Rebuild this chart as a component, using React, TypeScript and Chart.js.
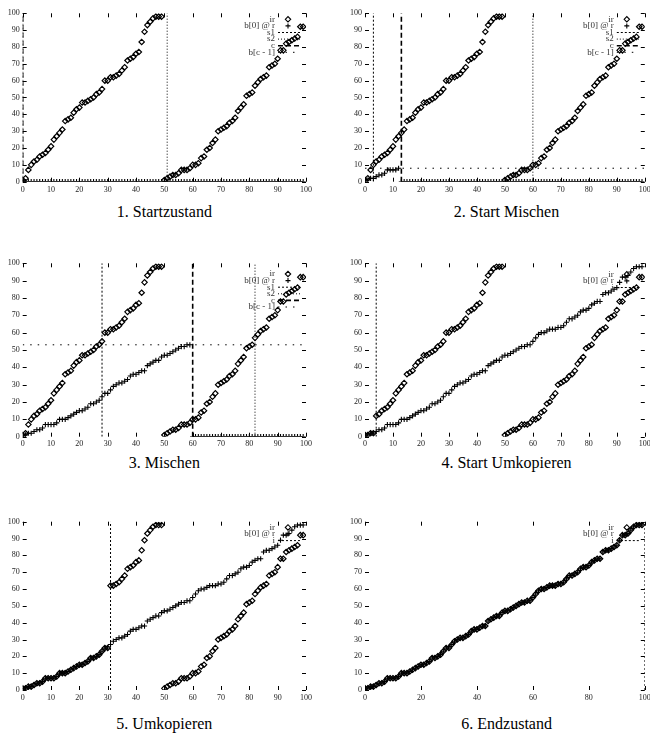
import React, { useEffect, useRef } from "react";
import { Chart, registerables } from "chart.js";
Chart.register(...registerables);

// ---- data ----
const IR_LEFT = [1, 2, 7, 10, 12, 13, 15, 16, 17, 19, 21, 25, 27, 29, 31, 36, 37, 38, 41, 43, 44, 47, 47, 48, 49, 50, 52, 53, 55, 60, 60, 62, 62, 63, 64, 66, 68, 72, 73, 74, 76, 77, 83, 89, 93, 95, 97, 98, 98, 98];
const IR_RIGHT = [1, 2, 3, 4, 4, 5, 7, 7, 7, 8, 10, 10, 11, 14, 15, 19, 20, 23, 25, 30, 31, 32, 33, 35, 36, 38, 42, 44, 46, 51, 52, 53, 57, 59, 61, 62, 63, 68, 69, 70, 73, 78, 78, 82, 83, 84, 85, 86, 92, 92];
const MERGED = [1, 1, 2, 2, 3, 4, 4, 5, 7, 7, 7, 7, 8, 10, 10, 10, 11, 12, 13, 14, 15, 15, 16, 17, 19, 19, 20, 21, 23, 25, 25, 27, 29, 30, 31, 31, 32, 33, 35, 36, 36, 37, 38, 38, 41, 42, 43, 44, 44, 46, 47, 47, 48, 49, 50, 51, 52, 52, 53, 53, 55, 57, 59, 60, 60, 61, 62, 62, 62, 63, 63, 64, 66, 68, 68, 69, 70, 72, 73, 73, 74, 76, 77, 78, 78, 82, 83, 83, 84, 85, 86, 89, 92, 92, 93, 95, 97, 98, 98, 98];

const PANEL_TITLES = ["1. Startzustand", "2. Start Mischen", "3. Mischen", "4. Start Umkopieren", "5. Umkopieren", "6. Endzustand"];
const MERGE_S1 = [0, 3, 28];
const MERGE_S2 = [51, 60, 82];
const MERGE_C = [0, 13, 60];
const MERGE_BC1: (number | null)[] = [null, 8, 53];
const COPY_I = [4, 31, 100];
const X_STEP = [10, 10, 10, 10, 10, 20];
const Y_STEP = 10;

const IR_START = [...IR_LEFT, ...IR_RIGHT];

const FONT = "'Liberation Serif', 'Times New Roman', serif";

type Geo = { cx: number; cy: number; cw: number; ch: number; left: number; top: number; right: number; bottom: number; lg: number; lp: number; ty: number };
const GEOS: Geo[] = [
  { cx: 0, cy: 0, cw: 325, ch: 200, left: 22.7, top: 13.3, right: 306, bottom: 181.7, lg: 6, lp: 3, ty: 212 },
  { cx: 325, cy: 0, cw: 325, ch: 200, left: 365, top: 13.3, right: 648, bottom: 181.7, lg: 6, lp: 3, ty: 212 },
  { cx: 0, cy: 250, cw: 325, ch: 200, left: 22.7, top: 263.3, right: 306, bottom: 436.7, lg: 10.7, lp: 2.5, ty: 463 },
  { cx: 325, cy: 250, cw: 325, ch: 200, left: 365, top: 263.3, right: 648, bottom: 436.7, lg: 11, lp: 2.5, ty: 463 },
  { cx: 0, cy: 505, cw: 325, ch: 205, left: 22.7, top: 521.7, right: 306, bottom: 690, lg: 5.7, lp: 3, ty: 724 },
  { cx: 325, cy: 505, cw: 325, ch: 205, left: 365, top: 521.7, right: 648.3, bottom: 690, lg: 5.7, lp: 3, ty: 724 },
];

type LegendItem = { label: string; kind: "diamond" | "cross" | "line"; dash?: number[]; w?: number };
const DASH_S1 = [2, 2];
const DASH_S2 = [1, 2];
const DASH_C = [5, 3];
const DASH_BC = [1.5, 6];

function pts(arr: number[]) {
  return arr.map((y, x) => ({ x, y }));
}

function vline(x: number, dash: number[], w: number, label: string) {
  return { label, data: [{ x, y: 0 }, { x, y: 100 }], showLine: true, pointRadius: 0, borderColor: "#000", borderWidth: w, borderDash: dash, fill: false };
}
function hline(y: number, dash: number[], w: number, label: string) {
  return { label, data: [{ x: 0, y }, { x: 100, y }], showLine: true, pointRadius: 0, borderColor: "#000", borderWidth: w, borderDash: dash, fill: false };
}

function buildConfig(idx: number): any {
  const g = GEOS[idx];
  const isMerge = idx < 3;
  let ir: number[];
  let b: number[];
  const lineSets: any[] = [];
  let legend: LegendItem[];
  if (isMerge) {
    ir = IR_START;
    const c = MERGE_C[idx];
    b = IR_START.map((_, k) => (k < c ? MERGED[k] : 0));
    lineSets.push(vline(MERGE_S1[idx], DASH_S1, 1, "s1"));
    lineSets.push(vline(MERGE_S2[idx], DASH_S2, 1, "s2"));
    lineSets.push(vline(MERGE_C[idx], DASH_C, 1.6, "c"));
    const h = MERGE_BC1[idx];
    if (h !== null) lineSets.push(hline(h, DASH_BC, 1, "b[c - 1]"));
    legend = [
      { label: "ir", kind: "diamond" },
      { label: "b[0] @ r", kind: "cross" },
      { label: "s1", kind: "line", dash: DASH_S1, w: 1 },
      { label: "s2", kind: "line", dash: DASH_S2, w: 1 },
      { label: "c", kind: "line", dash: DASH_C, w: 1.6 },
      { label: "b[c - 1]", kind: "line", dash: DASH_BC, w: 1 },
    ];
  } else {
    const i = COPY_I[idx - 3];
    ir = IR_START.map((v, k) => (k < i ? MERGED[k] : v));
    b = MERGED;
    lineSets.push(vline(i, DASH_S1, 1, "i"));
    legend = [
      { label: "ir", kind: "diamond" },
      { label: "b[0] @ r", kind: "cross" },
      { label: "i", kind: "line", dash: DASH_S1, w: 1 },
    ];
  }

  const decor = {
    id: "gpDecor" + idx,
    afterDraw(chart: any) {
      const { ctx, chartArea, scales } = chart;
      const { left, right, top, bottom } = chartArea;
      ctx.save();
      ctx.strokeStyle = "#000";
      ctx.lineWidth = 1;
      ctx.setLineDash([]);
      const TL = 4;
      ctx.beginPath();
      for (const t of scales.x.ticks) {
        const px = Math.round(scales.x.getPixelForValue(t.value)) + 0.5;
        ctx.moveTo(px, bottom);
        ctx.lineTo(px, bottom - TL);
        ctx.moveTo(px, top);
        ctx.lineTo(px, top + TL);
      }
      for (const t of scales.y.ticks) {
        const py = Math.round(scales.y.getPixelForValue(t.value)) + 0.5;
        ctx.moveTo(left, py);
        ctx.lineTo(left + TL, py);
        ctx.moveTo(right, py);
        ctx.lineTo(right - TL, py);
      }
      ctx.stroke();

      // legend
      const tx = right - 31;
      ctx.font = "9px " + FONT;
      ctx.textAlign = "right";
      ctx.textBaseline = "middle";
      legend.forEach((it, k) => {
        const y = top + g.lg + k * 6.6;
        ctx.fillStyle = "#333";
        ctx.fillText(it.label, tx, y);
        const sx = tx + 13;
        ctx.strokeStyle = "#000";
        if (it.kind === "diamond") {
          ctx.setLineDash([]);
          ctx.lineWidth = 1.1;
          ctx.beginPath();
          ctx.moveTo(sx - 2.7, y);
          ctx.lineTo(sx, y - 2.7);
          ctx.lineTo(sx + 2.7, y);
          ctx.lineTo(sx, y + 2.7);
          ctx.closePath();
          ctx.stroke();
        } else if (it.kind === "cross") {
          ctx.setLineDash([]);
          ctx.lineWidth = 1.1;
          ctx.beginPath();
          ctx.moveTo(sx - 2.5, y);
          ctx.lineTo(sx + 2.5, y);
          ctx.moveTo(sx, y - 2.5);
          ctx.lineTo(sx, y + 2.5);
          ctx.stroke();
        } else {
          ctx.setLineDash(it.dash || []);
          ctx.lineWidth = it.w || 1;
          ctx.beginPath();
          ctx.moveTo(tx + 3, y);
          ctx.lineTo(tx + 25, y);
          ctx.stroke();
        }
      });
      ctx.restore();
    },
  };

  return {
    type: "scatter",
    data: {
      datasets: [
        {
          label: "ir",
          data: pts(ir),
          pointStyle: "rectRot",
          pointRadius: 2.7,
          borderColor: "#000",
          backgroundColor: "rgba(0,0,0,0)",
          borderWidth: 1.2,
          showLine: false,
        },
        {
          label: "b[0] @ r",
          data: pts(b),
          pointStyle: "cross",
          pointRadius: 2.6,
          borderColor: "#000",
          borderWidth: 1.1,
          showLine: false,
        },
        ...lineSets,
      ],
    },
    options: {
      responsive: false,
      animation: false,
      devicePixelRatio: 1,
      layout: {
        padding: { left: 0, top: g.top - g.cy, right: g.cx + g.cw - g.right, bottom: 0 },
      },
      plugins: { legend: { display: false }, tooltip: { enabled: false }, title: { display: false } },
      scales: {
        x: {
          type: "linear",
          min: 0,
          max: 100,
          ticks: { stepSize: X_STEP[idx], font: { family: FONT, size: 8 }, color: "#222", padding: g.lp, maxRotation: 0, autoSkip: false },
          grid: { display: false, drawTicks: false },
          border: { display: false },
          afterFit: (s: any) => {
            s.height = g.cy + g.ch - g.bottom;
            s.paddingLeft = 0;
            s.paddingRight = 0;
          },
        },
        y: {
          type: "linear",
          min: 0,
          max: 100,
          ticks: { stepSize: Y_STEP, font: { family: FONT, size: 8 }, color: "#222", padding: 3, autoSkip: false },
          grid: { display: false, drawTicks: false },
          border: { display: false },
          afterFit: (s: any) => {
            s.width = g.left - g.cx;
            s.paddingTop = 0;
            s.paddingBottom = 0;
          },
        },
      },
    },
    plugins: [decor],
  };
}

function Panel({ idx }: { idx: number }) {
  const ref = useRef<HTMLCanvasElement>(null);
  const g = GEOS[idx];
  useEffect(() => {
    const chart = new Chart(ref.current as HTMLCanvasElement, buildConfig(idx));
    return () => chart.destroy();
  }, [idx]);
  return (
    <>
      <canvas
        ref={ref}
        width={g.cw}
        height={g.ch}
        style={{ position: "absolute", left: g.cx, top: g.cy, width: g.cw, height: g.ch }}
      />
      <div
        style={{
          position: "absolute",
          left: g.left - 60,
          width: g.right - g.left + 120,
          top: g.ty - 9,
          height: 18,
          lineHeight: "18px",
          textAlign: "center",
          fontFamily: FONT,
          fontSize: 16,
          color: "#000",
        }}
      >
        {PANEL_TITLES[idx]}
      </div>
    </>
  );
}

export default function App() {
  return (
    <div style={{ position: "absolute", left: 0, top: 0, width: 650, height: 738, background: "#fff", overflow: "hidden" }}>
      {PANEL_TITLES.map((_, i) => (
        <Panel key={i} idx={i} />
      ))}
    </div>
  );
}
